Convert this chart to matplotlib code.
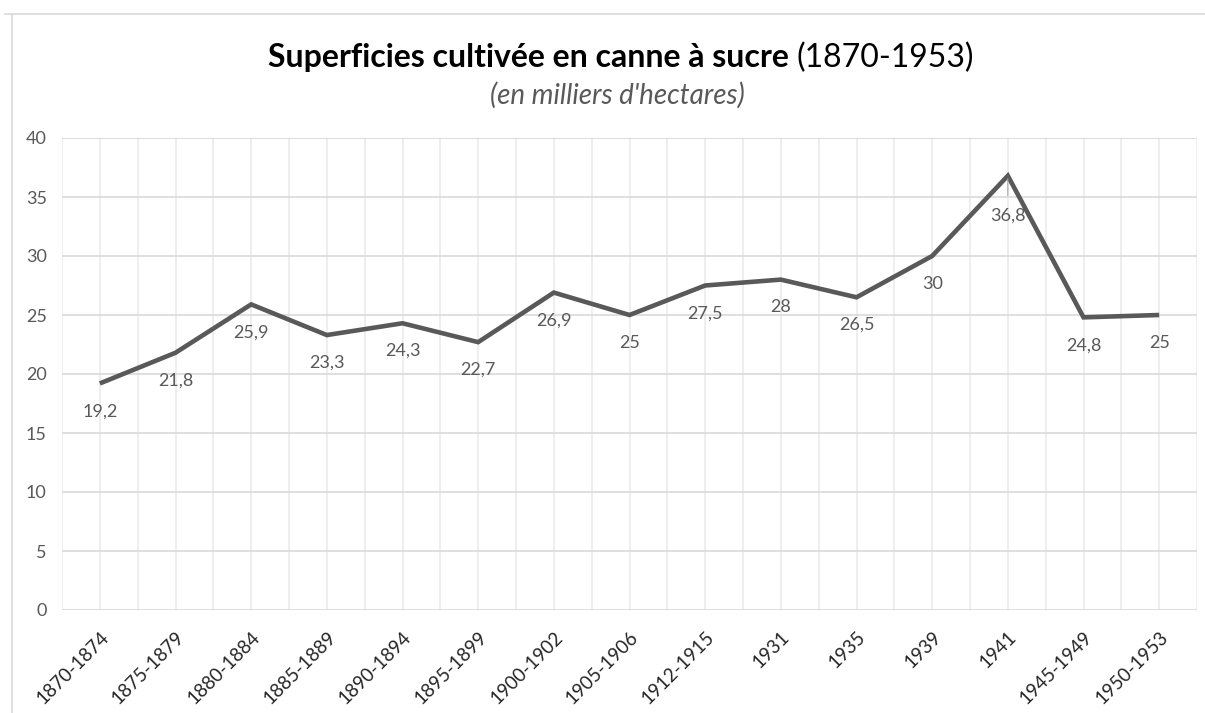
import numpy as np
import matplotlib.pyplot as plt
from matplotlib.lines import Line2D

periods = ["1870-1874", "1875-1879", "1880-1884", "1885-1889", "1890-1894",
           "1895-1899", "1900-1902", "1905-1906", "1912-1915", "1931",
           "1935", "1939", "1941", "1945-1949", "1950-1953"]
surface = [19.2, 21.8, 25.9, 23.3, 24.3, 22.7, 26.9, 25, 27.5, 28,
           26.5, 30, 36.8, 24.8, 25]
y_ticks = [0, 5, 10, 15, 20, 25, 30, 35, 40]

FONT = "Lato"
LINE_COLOR = "#595959"
LABEL_COLOR = "#595959"

plt.rcParams["font.family"] = [FONT, "DejaVu Sans"]

fig = plt.figure(figsize=(12.05, 7.13), dpi=100)
W, H = 1205, 713
ax = fig.add_axes([62 / W, 1 - 610 / H, (1197 - 62) / W, (610 - 138) / H])

x = np.arange(len(periods))
ax.plot(x, surface, color=LINE_COLOR, lw=3.3, solid_joinstyle="miter",
        solid_capstyle="butt", zorder=3)

# value labels under each point, the peak one pushed lower with a leader
def fmt(v):
    s = f"{v:g}"
    return s.replace(".", ",")

for xi, v in zip(x, surface):
    if v == max(surface):
        ax.annotate(fmt(v), (xi, v), xytext=(0, -29), textcoords="offset points",
                    ha="center", va="center", fontsize=13, color=LABEL_COLOR,
                    arrowprops=dict(arrowstyle="-", color="#a6a6a6", lw=0.8,
                                    shrinkA=7, shrinkB=2))
    else:
        ax.annotate(fmt(v), (xi, v), xytext=(0, -20), textcoords="offset points",
                    ha="center", va="center", fontsize=13, color=LABEL_COLOR)

ax.set_xlim(-0.5, len(periods) - 0.5)
ax.set_ylim(0, 40)
ax.set_yticks(y_ticks)
ax.set_yticklabels([str(t) for t in y_ticks], fontsize=13, color=LABEL_COLOR)
ax.set_xticks(x)
ax.set_xticklabels(periods, rotation=45, ha="right", rotation_mode="anchor",
                   fontsize=13.5, color="#262626")
ax.tick_params(axis="both", length=0)
ax.tick_params(axis="y", pad=11)
ax.tick_params(axis="x", pad=13)

# horizontal grid on the value ticks, vertical grid on every half category
for t in y_ticks:
    ax.axhline(t, color="#d9d9d9", lw=1.2, zorder=1)
for gx in np.arange(-0.5, len(periods), 0.5):
    ax.axvline(gx, color="#ebebeb", lw=1.2, zorder=0.5)
for s in ax.spines.values():
    s.set_visible(False)

# chart frame (left and top edges only are visible)
fig.add_artist(Line2D([12 / W, 12 / W], [0, 1 - 14 / H], color="#d9d9d9", lw=1.2))
fig.add_artist(Line2D([5 / W, 1], [1 - 14 / H, 1 - 14 / H], color="#d9d9d9", lw=1.2))

# title: bold part + regular part
fig.text(789 / W, 1 - 58 / H, "Superficies cultivée en canne à sucre",
         ha="right", va="center", fontsize=23, fontweight="bold", color="#000000")
fig.text(797 / W, 1 - 58 / H, "(1870-1953)",
         ha="left", va="center", fontsize=23, color="#000000")
fig.text(617 / W, 1 - 95 / H, "(en milliers d'hectares)",
         ha="center", va="center", fontsize=20, style="italic", color="#595959")

fig.savefig("out.png", dpi=100, facecolor="white")
